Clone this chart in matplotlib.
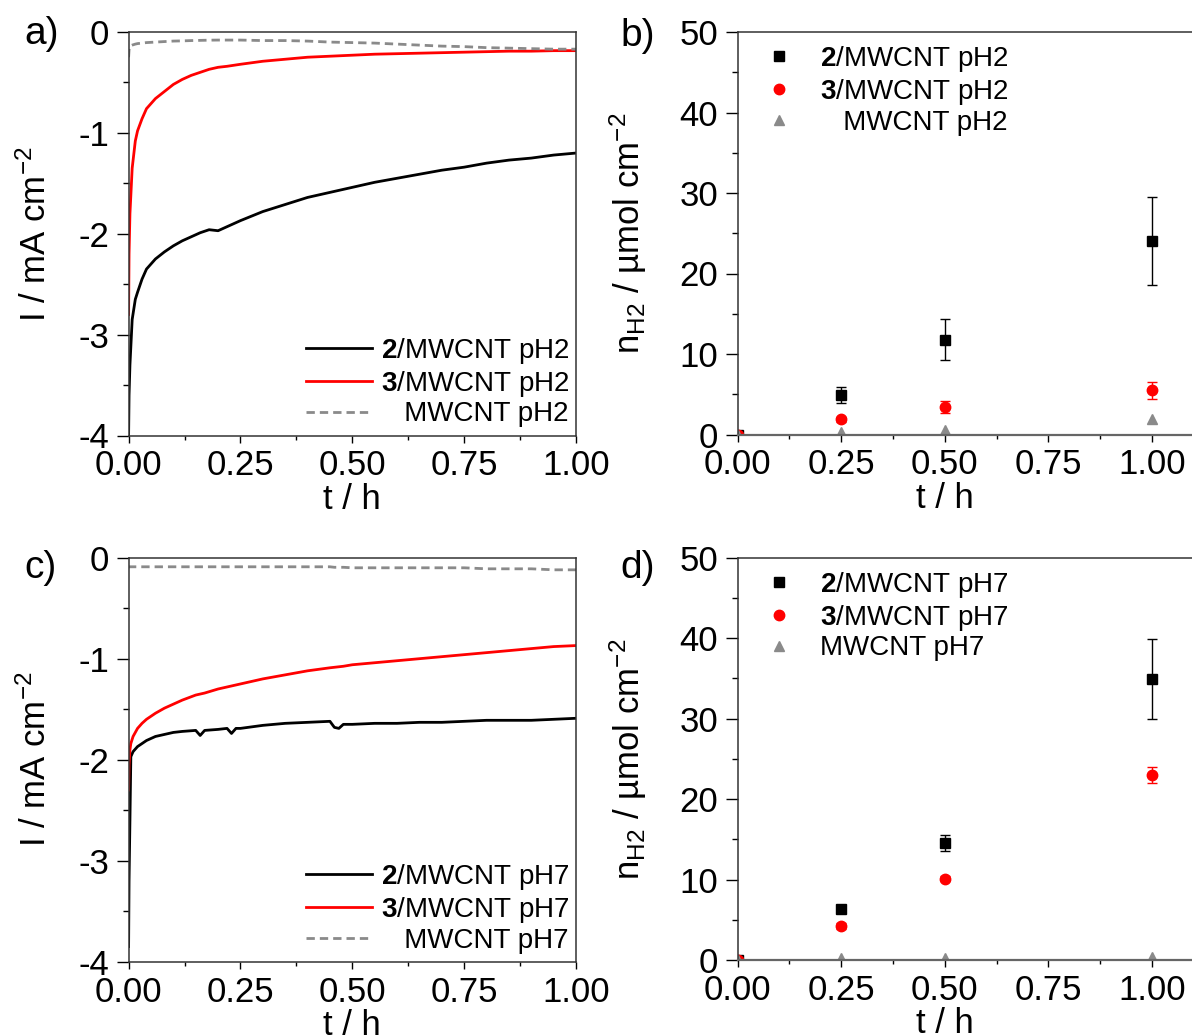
import matplotlib
matplotlib.use("Agg")
import matplotlib.pyplot as plt
from matplotlib.ticker import MultipleLocator

plt.rcParams["font.family"] = ["Liberation Sans", "DejaVu Sans"]
plt.rcParams["mathtext.fontset"] = "custom"
plt.rcParams["mathtext.rm"] = "Liberation Sans"
plt.rcParams["mathtext.it"] = "Liberation Sans:italic"
plt.rcParams["mathtext.bf"] = "Liberation Sans:bold"

# ------------------------------------------------------------------
# Data
# ------------------------------------------------------------------

# a) chronoamperometry at pH 2
t_ph2 = [0.0, 0.001, 0.003, 0.008, 0.015, 0.02, 0.03, 0.04, 0.06, 0.08, 0.1,
         0.12, 0.14, 0.16, 0.18, 0.2, 0.22, 0.25, 0.3, 0.35, 0.4, 0.45, 0.5,
         0.55, 0.6, 0.65, 0.7, 0.75, 0.8, 0.85, 0.9, 0.95, 1.0]
i_cat2_ph2 = [-4.0, -3.6, -3.3, -2.85, -2.65, -2.58, -2.45, -2.35, -2.25, -2.18, -2.12,
              -2.07, -2.03, -1.99, -1.96, -1.97, -1.93, -1.87, -1.78, -1.71, -1.64, -1.59, -1.54,
              -1.49, -1.45, -1.41, -1.37, -1.34, -1.30, -1.27, -1.25, -1.22, -1.20]
i_cat3_ph2 = [-2.8, -2.2, -1.8, -1.35, -1.08, -0.98, -0.86, -0.76, -0.66, -0.59, -0.52,
              -0.47, -0.43, -0.40, -0.37, -0.35, -0.34, -0.32, -0.29, -0.27, -0.25, -0.24, -0.23,
              -0.22, -0.215, -0.21, -0.205, -0.20, -0.195, -0.19, -0.19, -0.185, -0.185]
i_mwcnt_ph2 = [-0.25, -0.18, -0.14, -0.13, -0.12, -0.115, -0.11, -0.105, -0.10, -0.095, -0.09,
               -0.088, -0.085, -0.083, -0.081, -0.08, -0.08, -0.08, -0.085, -0.085, -0.09, -0.10, -0.105,
               -0.11, -0.12, -0.13, -0.14, -0.145, -0.155, -0.16, -0.165, -0.17, -0.17]

# c) chronoamperometry at pH 7
t_ph7 = [0.0, 0.001, 0.003, 0.005, 0.01, 0.02, 0.03, 0.04, 0.06, 0.08, 0.1, 0.12,
         0.15, 0.16, 0.17, 0.2, 0.22, 0.23, 0.24, 0.25, 0.3, 0.35, 0.4, 0.45, 0.46,
         0.47, 0.48, 0.5, 0.55, 0.6, 0.65, 0.7, 0.75, 0.8, 0.85, 0.9, 0.95, 1.0]
i_cat2_ph7 = [-3.85, -3.2, -2.6, -1.97, -1.92, -1.87, -1.84, -1.81, -1.77, -1.75, -1.73, -1.72,
              -1.71, -1.76, -1.71, -1.70, -1.69, -1.74, -1.69, -1.69, -1.66, -1.64, -1.63, -1.62, -1.68,
              -1.69, -1.65, -1.65, -1.64, -1.64, -1.63, -1.63, -1.62, -1.61, -1.61, -1.61, -1.60, -1.59]
i_cat3_ph7 = [-2.3, -2.05, -1.9, -1.84, -1.77, -1.69, -1.64, -1.60, -1.54, -1.49, -1.45, -1.41,
              -1.36, -1.35, -1.34, -1.30, -1.28, -1.27, -1.26, -1.25, -1.20, -1.16, -1.12, -1.09, -1.085,
              -1.08, -1.075, -1.06, -1.04, -1.02, -1.00, -0.98, -0.96, -0.94, -0.92, -0.90, -0.88, -0.87]
i_mwcnt_ph7 = [-0.10, -0.09, -0.09, -0.09, -0.09, -0.09, -0.09, -0.09, -0.09, -0.09, -0.09, -0.09,
               -0.09, -0.09, -0.09, -0.09, -0.09, -0.09, -0.09, -0.09, -0.09, -0.09, -0.09, -0.09, -0.095,
               -0.095, -0.095, -0.10, -0.10, -0.10, -0.10, -0.10, -0.10, -0.11, -0.11, -0.11, -0.12, -0.12]

# b) / d) hydrogen evolved
t_h2 = [0.0, 0.25, 0.5, 1.0]
n_cat2_ph2 = [0.0, 4.9, 11.8, 24.0]
err_cat2_ph2 = [0.0, 1.0, 2.6, 5.45]
n_cat3_ph2 = [0.0, 1.9, 3.4, 5.5]
err_cat3_ph2 = [0.0, 0.3, 0.7, 1.05]
n_mwcnt_ph2 = [0.0, 0.3, 0.6, 1.9]

n_cat2_ph7 = [0.0, 6.3, 14.5, 34.9]
err_cat2_ph7 = [0.0, 0.3, 1.0, 5.0]
n_cat3_ph7 = [0.0, 4.2, 10.1, 23.0]
err_cat3_ph7 = [0.0, 0.4, 0.3, 1.0]
n_mwcnt_ph7 = [0.0, 0.2, 0.2, 0.4]

# ------------------------------------------------------------------
# Figure layout (pixel based)
# ------------------------------------------------------------------
W, H = 1192, 1036
fig = plt.figure(figsize=(W / 100, H / 100), dpi=100)


def px_axes(x0, y0, x1, y1):
    return fig.add_axes([x0 / W, 1 - y1 / H, (x1 - x0) / W, (y1 - y0) / H])


ax_a = px_axes(128.6, 32, 576, 435.5)
ax_b = px_axes(737.6, 32, 737.6 + 1.125 * 414.4, 434.5)
ax_c = px_axes(128.6, 557.7, 576, 961.7)
ax_d = px_axes(737.6, 557.7, 737.6 + 1.125 * 414.4, 960)

TICK_FS = 25
LABEL_FS = 25
LEG_FS = 20
GREY = "#8a8a8a"
DASH = (0, (3, 1.8))


def style(ax, ymajor, yminor):
    for s in ax.spines.values():
        s.set_linewidth(1.1)
        s.set_color("#333333")
    ax.xaxis.set_major_locator(MultipleLocator(0.25))
    ax.xaxis.set_minor_locator(MultipleLocator(0.125))
    ax.yaxis.set_major_locator(MultipleLocator(ymajor))
    ax.yaxis.set_minor_locator(MultipleLocator(yminor))
    ax.tick_params(axis="x", which="major", direction="out", length=5, width=1, pad=5, labelsize=TICK_FS)
    ax.tick_params(axis="x", which="minor", direction="out", length=3, width=1)
    ax.tick_params(axis="y", which="major", direction="out", length=9, width=1, pad=5, labelsize=TICK_FS)
    ax.tick_params(axis="y", which="minor", direction="out", length=4, width=1)
    ax.xaxis.set_major_formatter(plt.FuncFormatter(lambda v, p: f"{v:.2f}"))
    ax.set_xlabel("t / h", fontsize=LABEL_FS)


# ------------------------------------------------------------------
# Current traces (a, c)
# ------------------------------------------------------------------
for ax, t, i2, i3, im, ph in [
    (ax_a, t_ph2, i_cat2_ph2, i_cat3_ph2, i_mwcnt_ph2, "pH2"),
    (ax_c, t_ph7, i_cat2_ph7, i_cat3_ph7, i_mwcnt_ph7, "pH7"),
]:
    ax.plot(t, i2, color="black", lw=2, label=r"$\mathbf{2}$/MWCNT " + ph)
    ax.plot(t, i3, color="red", lw=2, label=r"$\mathbf{3}$/MWCNT " + ph)
    ax.plot(t, im, color=GREY, lw=2, linestyle=DASH, label="   MWCNT " + ph)
    ax.set_xlim(0, 1.0)
    ax.set_ylim(-4, 0)
    style(ax, 1, 0.5)
    ax.yaxis.set_major_formatter(plt.FuncFormatter(lambda v, p: f"{v:.0f}"))
    ax.set_ylabel(r"I / mA cm$^{-2}$", fontsize=LABEL_FS)
    ax.yaxis.set_label_coords(-0.17, 0.5)
    ax.xaxis.set_label_coords(0.5, -0.118)
    ax.legend(loc="lower right", bbox_to_anchor=(0.985, 0.02), frameon=False,
              fontsize=LEG_FS, handlelength=2.4, handletextpad=0.3,
              labelspacing=0.1, borderpad=0, borderaxespad=0)

# ------------------------------------------------------------------
# Hydrogen amounts (b, d)
# ------------------------------------------------------------------
for ax, n2, e2, n3, e3, nm, ph, indent in [
    (ax_b, n_cat2_ph2, err_cat2_ph2, n_cat3_ph2, err_cat3_ph2, n_mwcnt_ph2, "pH2", "   "),
    (ax_d, n_cat2_ph7, err_cat2_ph7, n_cat3_ph7, err_cat3_ph7, n_mwcnt_ph7, "pH7", ""),
]:
    ax.errorbar(t_h2, n2, yerr=e2, fmt="none", ecolor="black", elinewidth=1, capsize=3.5, capthick=1)
    ax.errorbar(t_h2, n3, yerr=e3, fmt="none", ecolor="red", elinewidth=1, capsize=3.5, capthick=1)
    ax.plot(t_h2, n2, ls="none", marker="s", ms=7, color="black", label=r"$\mathbf{2}$/MWCNT " + ph)
    ax.plot(t_h2, n3, ls="none", marker="o", ms=7.5, color="red", label=r"$\mathbf{3}$/MWCNT " + ph)
    ax.plot(t_h2, nm, ls="none", marker="^", ms=7.5, color=GREY, label=indent + "MWCNT " + ph)
    ax.set_xlim(0, 1.125)
    ax.set_ylim(0, 50)
    style(ax, 10, 5)
    ax.spines["bottom"].set_color("#666666")
    ax.spines["bottom"].set_linewidth(1.6)
    ax.set_ylabel(r"n$_{\mathrm{H2}}$ / µmol cm$^{-2}$", fontsize=LABEL_FS)
    ax.yaxis.set_label_coords(-0.19, 0.5)
    ax.xaxis.set_label_coords(0.445, -0.118)
    ax.legend(loc="upper left", bbox_to_anchor=(0.03, 0.97), frameon=False,
              fontsize=LEG_FS, handlelength=2.0, handletextpad=0.45,
              labelspacing=0.1, borderpad=0, borderaxespad=0)

# panel letters
for lab, x, y in [("a)", 24, 34), ("b)", 620, 36), ("c)", 24, 568), ("d)", 620, 568)]:
    fig.text(x / W, 1 - y / H, lab, fontsize=28, ha="left", va="center")

fig.savefig("out.png", dpi=100)
